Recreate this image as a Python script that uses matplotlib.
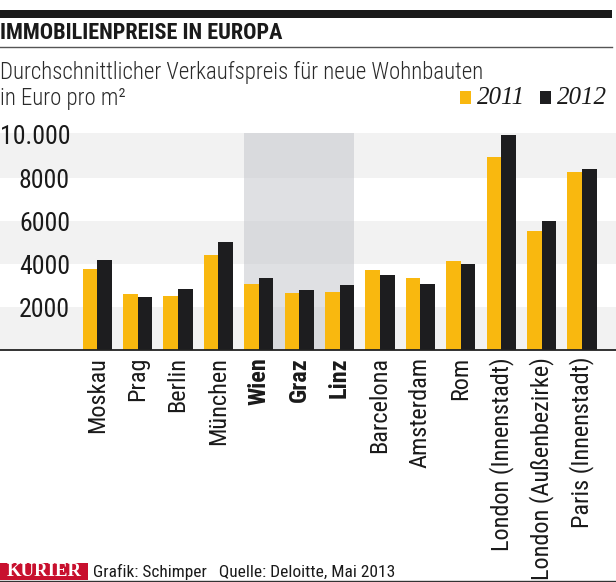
import os
import numpy as np
import matplotlib
matplotlib.use("Agg")
from matplotlib import pyplot as plt
from matplotlib import font_manager as fm
from matplotlib.patches import Rectangle
from matplotlib.lines import Line2D
from matplotlib.transforms import blended_transform_factory

cities = ["Moskau", "Prag", "Berlin", "München", "Wien", "Graz", "Linz",
          "Barcelona", "Amsterdam", "Rom", "London (Innenstadt)",
          "London (Außenbezirke)", "Paris (Innenstadt)"]
bold_cities = ["Wien", "Graz", "Linz"]
price_2011 = [3750, 2600, 2500, 4400, 3050, 2650, 2680, 3720, 3350, 4120, 8960, 5520, 8260]
price_2012 = [4200, 2450, 2850, 5000, 3330, 2800, 3000, 3500, 3080, 3980, 10000, 5980, 8430]
ytick_values = [2000, 4000, 6000, 8000, 10000]
ytick_labels = ["2000", "4000", "6000", "8000", "10.000"]


def weight_num(w):
    if isinstance(w, str):
        return fm.weight_dict.get(w, 400)
    return w


def find_narrow(weights):
    # look for any condensed / narrow sans that is installed
    prefs = ["liberation sans narrow", "roboto condensed", "open sans condensed",
             "noto sans", "dejavu sans", "arial narrow"]
    found = []
    for f in fm.fontManager.ttflist:
        nm = f.name.lower()
        fn = os.path.basename(f.fname).lower()
        narrowish = ("narrow" in nm or "condensed" in nm or "condensed" in fn
                     or "narrow" in fn or f.stretch in ("condensed", "semi-condensed"))
        if not narrowish or "mono" in nm or "serif" in nm:
            continue
        if f.style != "normal" or "italic" in fn or "oblique" in fn:
            continue
        if "extra" in fn or "ultra" in fn or "semi" in fn:
            continue
        if weight_num(f.weight) not in weights:
            continue
        rank = len(prefs)
        for i, p in enumerate(prefs):
            if nm.startswith(p):
                rank = i
                break
        found.append((rank, f.fname))
    if found:
        found.sort()
        return fm.FontProperties(fname=found[0][1])
    return None


narrow = find_narrow([400]) or fm.FontProperties(family="Roboto")
narrow_bold = find_narrow([700, 600, 800]) or fm.FontProperties(family="Roboto", weight="bold")
narrow_light = find_narrow([300]) or narrow
serif_it = fm.FontProperties(family="Liberation Serif", style="italic")
serif_bold = fm.FontProperties(family="Liberation Serif", weight="bold")


def fp(base, size):
    p = base.copy()
    p.set_size(size)
    return p


W, H = 616, 582
def fx(px):
    return px / W
def fy(py):
    return 1 - py / H

yellow = "#f9b80f"
black = "#1d1d1f"
ink = "#1a1a1a"

fig = plt.figure(figsize=(W / 100, H / 100), dpi=100)
ax = fig.add_axes([0, fy(350), 1, fy(133.3) - fy(350)])

# group spacing ~40.4 px, first group centre at ~97 px
x = np.arange(len(cities))
bar_w = 0.36
ax.set_xlim(-97.2 / 40.4, (W - 97.2) / 40.4)
ax.set_ylim(0, 10065)

# alternating bands
for lo, hi in [(0, 2000), (4000, 6000), (8000, 10065)]:
    ax.axhspan(lo, hi, color="#f2f2f2", lw=0, zorder=0)

# highlight for Austrian cities
i0, i1 = cities.index("Wien"), cities.index("Linz")
ax.axvspan(i0 - bar_w, i1 + bar_w, color="#c6c8cc", alpha=0.55, lw=0, zorder=1)

ax.bar(x - bar_w / 2, price_2011, bar_w, color=yellow, zorder=2)
ax.bar(x + bar_w / 2, price_2012, bar_w, color=black, zorder=2)

for s in ["top", "right", "left"]:
    ax.spines[s].set_visible(False)
ax.spines["bottom"].set_linewidth(1.3)
ax.spines["bottom"].set_color("#222222")
ax.set_yticks([])

trans = blended_transform_factory(ax.transAxes, ax.transData)
for v, lab in zip(ytick_values, ytick_labels):
    ax.text(70 / W, v - 130, lab, transform=trans, ha="right", va="center",
            fontproperties=fp(narrow, 18.5), color=ink)

ax.set_xticks(x)
ax.set_xticklabels(cities, rotation=90, va="top", ha="center", color=ink)
for t in ax.get_xticklabels():
    if t.get_text() in bold_cities:
        t.set_fontproperties(fp(narrow_bold, 17.5))
    else:
        t.set_fontproperties(fp(narrow, 17.5))
ax.tick_params(axis="x", length=0, pad=5)

# header
fig.add_artist(Rectangle((0, fy(18)), fx(612), fy(10) - fy(18),
                         transform=fig.transFigure, color=ink, lw=0))
fig.text(0, fy(33), "IMMOBILIENPREISE IN EUROPA", ha="left", va="center",
         fontproperties=fp(narrow_bold, 16), color=ink)
fig.add_artist(Line2D([0, fx(612)], [fy(47), fy(47)], transform=fig.transFigure,
                      color="#555555", lw=1))
fig.text(0, fy(72), "Durchschnittlicher Verkaufspreis für neue Wohnbauten",
         ha="left", va="center", fontproperties=fp(narrow_light, 16.5), color="#2a2a2a")
fig.text(0, fy(98), "in Euro pro m²", ha="left", va="center",
         fontproperties=fp(narrow_light, 16.5), color="#2a2a2a")

# legend
fig.add_artist(Rectangle((fx(460), fy(104)), fx(11), fy(91) - fy(104),
                         transform=fig.transFigure, color=yellow, lw=0))
fig.text(fx(477), fy(98), "2011", ha="left", va="center",
         fontproperties=fp(serif_it, 18), color=ink)
fig.add_artist(Rectangle((fx(540), fy(104)), fx(11), fy(91) - fy(104),
                         transform=fig.transFigure, color=black, lw=0))
fig.text(fx(557), fy(98), "2012", ha="left", va="center",
         fontproperties=fp(serif_it, 18), color=ink)

# footer
fig.add_artist(Rectangle((0, fy(580)), fx(88), fy(563) - fy(580),
                         transform=fig.transFigure, color="#c8102e", lw=0))
fig.text(fx(44), fy(571.5), "KURIER", ha="center", va="center",
         fontproperties=fp(serif_bold, 13.5), color="white")
fig.text(fx(93), fy(571.5), "Grafik: Schimper   Quelle: Deloitte, Mai 2013",
         ha="left", va="center", fontproperties=fp(narrow, 12.5), color=ink)
fig.add_artist(Line2D([0, 1], [fy(580.5), fy(580.5)], transform=fig.transFigure,
                      color="#333333", lw=1))

fig.savefig("out.png", dpi=100)
